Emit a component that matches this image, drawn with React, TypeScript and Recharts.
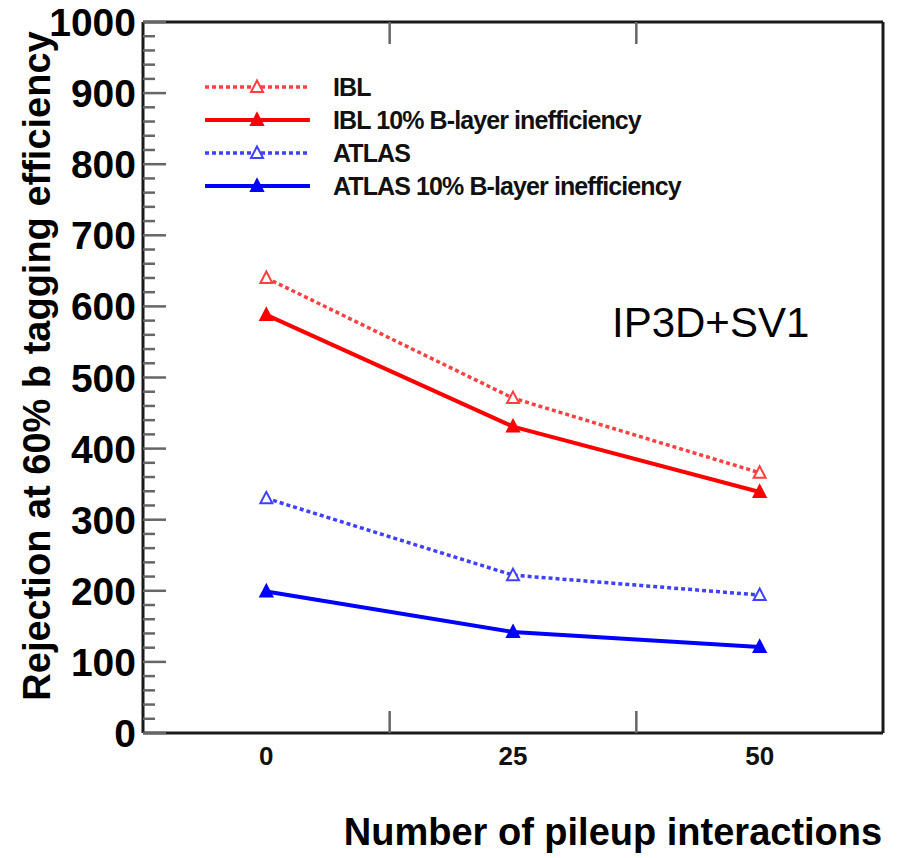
import { LineChart, Line, XAxis, YAxis } from 'recharts';

// number of pileup interactions
const pileup = [0, 25, 50];

// light-jet rejection at 60% b-tagging efficiency
const iblNominal = [640, 471, 366];
const iblInefficient = [588, 431, 339];
const atlasNominal = [330, 222, 194];
const atlasInefficient = [199, 142, 121];

const xLabels = [0, 25, 50];
const xMinorTicks = [12.5, 37.5];
const yLabels = [0, 100, 200, 300, 400, 500, 600, 700, 800, 900, 1000];
const yMinorTicks = Array.from({ length: 51 }, (_, i) => i * 20);

const series = [
  { key: 'ibl', name: 'IBL', values: iblNominal, color: '#ff4040', dashed: true },
  { key: 'iblIneff', name: 'IBL 10% B-layer inefficiency', values: iblInefficient, color: '#ff0000', dashed: false },
  { key: 'atlas', name: 'ATLAS', values: atlasNominal, color: '#4040ff', dashed: true },
  { key: 'atlasIneff', name: 'ATLAS 10% B-layer inefficiency', values: atlasInefficient, color: '#0000ff', dashed: false },
];

const rows = pileup.map((p, i) => {
  const row: Record<string, number> = { pileup: p };
  series.forEach((s) => {
    row[s.key] = s.values[i];
  });
  return row;
});

const xTicks = [...xLabels, ...xMinorTicks].sort((a, b) => a - b);

const FONT = '"Liberation Sans", Arial, Helvetica, sans-serif';
const TICK_COLOR = '#666';
const FRAME = { stroke: '#1a1a1a', strokeWidth: 3 };

function triangle(cx: number, cy: number) {
  return `M${cx},${cy - 6.5}L${cx + 6},${cy + 5}L${cx - 6},${cy + 5}Z`;
}

function makeDot(color: string, filled: boolean) {
  return (props: any) => {
    const { cx, cy, index } = props;
    if (cx == null || cy == null) return <g key={index} />;
    return (
      <path
        key={index}
        d={triangle(cx, cy)}
        fill={filled ? color : '#fff'}
        stroke={color}
        strokeWidth={2}
      />
    );
  };
}

function BottomTick(props: any) {
  const { x, y, payload } = props;
  if (xLabels.includes(payload.value)) {
    return (
      <text x={x} y={y + 32} textAnchor="middle" fontFamily={FONT} fontWeight="bold" fontSize={26} fill="#111">
        {payload.value}
      </text>
    );
  }
  return <line x1={x} x2={x} y1={y} y2={y - 22} stroke={TICK_COLOR} strokeWidth={2.5} />;
}

function TopTick(props: any) {
  const { x, y, payload } = props;
  if (xLabels.includes(payload.value)) return <g />;
  return <line x1={x} x2={x} y1={y} y2={y + 22} stroke={TICK_COLOR} strokeWidth={2.5} />;
}

function LeftTick(props: any) {
  const { x, y, payload } = props;
  const major = yLabels.includes(payload.value);
  return (
    <g>
      <line x1={x} x2={x + (major ? 23 : 12)} y1={y} y2={y} stroke={TICK_COLOR} strokeWidth={2.5} />
      {major && (
        <text x={x - 7} y={y} dy="0.36em" textAnchor="end" fontFamily={FONT} fontWeight="bold" fontSize={39} fill="#000">
          {payload.value}
        </text>
      )}
    </g>
  );
}

function RightTick(props: any) {
  const { x, y, payload } = props;
  const major = yLabels.includes(payload.value);
  return <line x1={x} x2={x - (major ? 23 : 12)} y1={y} y2={y} stroke={TICK_COLOR} strokeWidth={2.5} />;
}

function LegendBox() {
  return (
    <g>
      {series.map((s, i) => {
        const y = 87 + i * 33;
        return (
          <g key={s.key}>
            <line
              x1={205}
              x2={310}
              y1={y}
              y2={y}
              stroke={s.color}
              strokeWidth={s.dashed ? 3.5 : 4}
              strokeDasharray={s.dashed ? '4 3' : undefined}
            />
            <path d={triangle(257, y)} fill={s.dashed ? '#fff' : s.color} stroke={s.color} strokeWidth={2} />
            <text x={333} y={y} dy="0.36em" fontFamily={FONT} fontWeight="bold" fontSize={25} letterSpacing={-0.9} fill="#111">
              {s.name}
            </text>
          </g>
        );
      })}
    </g>
  );
}

export default function App() {
  return (
    <div style={{ position: 'absolute', left: 0, top: 0, width: 898, height: 858, background: '#fff' }}>
      <LineChart width={898} height={858} data={rows} margin={{ top: 21, right: 14, bottom: 124, left: 142 }}>
        <XAxis
          xAxisId="bottom"
          dataKey="pileup"
          type="number"
          domain={[-12.5, 62.5]}
          ticks={xTicks}
          interval={0}
          height={1}
          tickSize={0}
          tickMargin={0}
          tickLine={false}
          axisLine={FRAME}
          tick={BottomTick}
        />
        <XAxis
          xAxisId="top"
          orientation="top"
          dataKey="pileup"
          type="number"
          domain={[-12.5, 62.5]}
          ticks={xTicks}
          interval={0}
          height={1}
          tickSize={0}
          tickMargin={0}
          tickLine={false}
          axisLine={FRAME}
          tick={TopTick}
        />
        <YAxis
          yAxisId="left"
          type="number"
          domain={[0, 1000]}
          ticks={yMinorTicks}
          interval={0}
          width={1}
          tickSize={0}
          tickMargin={0}
          tickLine={false}
          axisLine={FRAME}
          tick={LeftTick}
        />
        <YAxis
          yAxisId="right"
          orientation="right"
          type="number"
          domain={[0, 1000]}
          ticks={yMinorTicks}
          interval={0}
          width={1}
          tickSize={0}
          tickMargin={0}
          tickLine={false}
          axisLine={FRAME}
          tick={RightTick}
        />
        {series.map((s) => (
          <Line
            key={s.key}
            xAxisId="bottom"
            yAxisId="left"
            type="linear"
            dataKey={s.key}
            name={s.name}
            stroke={s.color}
            strokeWidth={s.dashed ? 3.5 : 4}
            strokeDasharray={s.dashed ? '4 3' : undefined}
            dot={makeDot(s.color, !s.dashed)}
            activeDot={false}
            isAnimationActive={false}
          />
        ))}
        <LegendBox />
        <text x={612} y={337} fontFamily={FONT} fontSize={42} fill="#000">
          IP3D+SV1
        </text>
        <text
          transform="rotate(-90)"
          x={-366}
          y={50}
          textAnchor="middle"
          fontFamily={FONT}
          fontWeight="bold"
          fontSize={38}
          fill="#000"
        >
          Rejection at 60% b tagging efficiency
        </text>
        <text x={613} y={845} textAnchor="middle" fontFamily={FONT} fontWeight="bold" fontSize={38} fill="#000">
          Number of pileup interactions
        </text>
      </LineChart>
    </div>
  );
}
